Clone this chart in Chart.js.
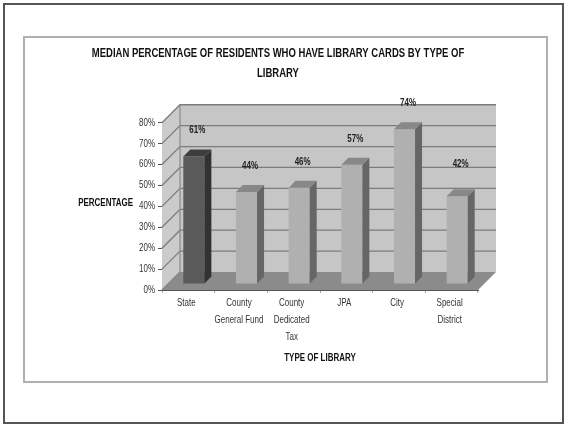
<!DOCTYPE html>
<html><head><meta charset="utf-8">
<style>
html,body{margin:0;padding:0;background:#fff;width:564px;height:424px;overflow:hidden}
#f1{position:absolute;left:3px;top:3px;width:557px;height:417px;border:2px solid #555;filter:blur(.4px)}
#f2{position:absolute;left:23px;top:36px;width:521px;height:343px;border:2px solid #b0b0b0;filter:blur(.4px)}
#c{position:absolute;left:0;top:0;width:564px;height:424px;filter:blur(.7px)}
</style>
<script src="https://cdn.jsdelivr.net/npm/chart.js@4"></script>
</head><body>
<div id="f1"></div><div id="f2"></div>
<canvas id="c" width="564" height="424"></canvas>
<script>
const categories=[["State"],["County","General Fund"],["County","Dedicated","Tax"],["JPA"],["City"],["Special","District"]];
const values=[61,44,46,57,74,42];
const titleLines=["MEDIAN PERCENTAGE OF RESIDENTS WHO HAVE LIBRARY CARDS BY TYPE OF","LIBRARY"];
const yAxisTitle="PERCENTAGE";
const xAxisTitle="TYPE OF LIBRARY";
const FONT='"Liberation Sans",Arial,sans-serif';
const NARROW=0.76;
const DX=18,DY=-18,BX=5.5,BY=-6,BD=7;
const front=["#5a5a5a","#b0b0b0","#b0b0b0","#b0b0b0","#b0b0b0","#b0b0b0"];
const side=["#323232","#666666","#666666","#666666","#666666","#666666"];
const top3=["#3e3e3e","#888888","#888888","#888888","#888888","#888888"];
const labelNudge=[0,0,0,0,0,6];
function poly(ctx,pts,fill,stroke,lw){ctx.beginPath();pts.forEach((p,i)=>i?ctx.lineTo(p[0],p[1]):ctx.moveTo(p[0],p[1]));ctx.closePath();
 if(fill){ctx.fillStyle=fill;ctx.fill();} if(stroke){ctx.strokeStyle=stroke;ctx.lineWidth=lw||1;ctx.stroke();}}
const box3d={id:'box3d',
 beforeDatasetsDraw(chart){
  const {ctx,chartArea:a,scales:{y}}=chart;
  const y0=y.getPixelForValue(0),yT=y.getPixelForValue(80);
  ctx.save();
  poly(ctx,[[a.left+DX,yT+DY],[a.right+DX,yT+DY],[a.right+DX,y0+DY],[a.left+DX,y0+DY]],"#c6c6c6");
  poly(ctx,[[a.left,yT],[a.left+DX,yT+DY],[a.left+DX,y0+DY],[a.left,y0]],"#cbcbcb");
  ctx.strokeStyle="#7c7c7c";ctx.lineWidth=1.3;
  y.ticks.forEach(t=>{const p=y.getPixelForValue(t.value);
   ctx.beginPath();ctx.moveTo(a.left,p);ctx.lineTo(a.left+DX,p+DY);
   if(t.value>0)ctx.lineTo(a.right+DX,p+DY);ctx.stroke();});
  ctx.strokeStyle="#8e8e8e";ctx.beginPath();ctx.moveTo(a.left+DX,yT+DY);ctx.lineTo(a.left+DX,y0+DY);ctx.stroke();
  poly(ctx,[[a.left,y0],[a.right,y0],[a.right+DX,y0+DY],[a.left+DX,y0+DY]],"#8b8b8b");
  ctx.restore();
  ctx.save();ctx.translate(BX,BY);
 },
 afterDatasetsDraw(chart){
  const {ctx}=chart;
  chart.getDatasetMeta(0).data.forEach((b,i)=>{
   const l=b.x-b.width/2,r=b.x+b.width/2,t=b.y,bt=b.base;
   poly(ctx,[[r,t],[r+BD,t-BD],[r+BD,bt-BD],[r,bt]],side[i]);
   poly(ctx,[[l,t],[r,t],[r+BD,t-BD],[l+BD,t-BD]],top3[i]);
  });
  ctx.font='bold 10.5px '+FONT;ctx.fillStyle="#222";ctx.textAlign="center";ctx.textBaseline="middle";
  chart.getDatasetMeta(0).data.forEach((b,i)=>{ctx.fillText(values[i]+"%",b.x+BD/2,b.y-BD-19-labelNudge[i]);});
  ctx.restore();
 },
 afterDraw(chart){
  const {ctx,scales:{y}}=chart;
  ctx.save();ctx.font='bold 10.5px '+FONT;ctx.fillStyle="#111";ctx.textAlign="right";ctx.textBaseline="middle";
  ctx.fillText(yAxisTitle,133,y.getPixelForValue(40)-3);
  ctx.restore();
 }
};
const canvas=document.getElementById('c');
const c2d=canvas.getContext('2d');
const origFill=c2d.fillText.bind(c2d);
c2d.fillText=function(text,x,y){c2d.save();c2d.translate(x,y);c2d.scale(NARROW,1);origFill(text,0,0);c2d.restore();};
new Chart(canvas,{
 type:'bar',
 data:{labels:categories,datasets:[{data:values,backgroundColor:front,barPercentage:.4,categoryPercentage:1,borderWidth:0}]},
 plugins:[box3d],
 options:{responsive:false,animation:false,events:[],
  layout:{padding:{left:78,right:86,top:0,bottom:60}},
  plugins:{legend:{display:false},tooltip:{enabled:false},
   title:{display:true,text:titleLines,color:"#111",font:{family:FONT,size:12.5,weight:'bold',lineHeight:1.55},padding:{top:44,bottom:40}}},
  scales:{
   x:{grid:{drawOnChartArea:false,color:"#aaa",tickLength:3},border:{color:"#555"},
      ticks:{color:"#333",font:{family:FONT,size:10.5,lineHeight:1.6},maxRotation:0,autoSkip:false,padding:2,labelOffset:-2},
      title:{display:true,text:xAxisTitle,color:"#111",font:{family:FONT,size:10.5,weight:'bold'},padding:{top:4,bottom:0}},
      afterFit(s){s.height=74;}},
   y:{min:0,max:80,grid:{drawOnChartArea:false,color:"#555",tickLength:4},border:{color:"#555"},
      ticks:{stepSize:10,color:"#333",font:{family:FONT,size:10.5},padding:3,callback:v=>v+"%"},
      afterFit(s){s.width=84;}}
  }
 }
});
</script>
</body></html>
